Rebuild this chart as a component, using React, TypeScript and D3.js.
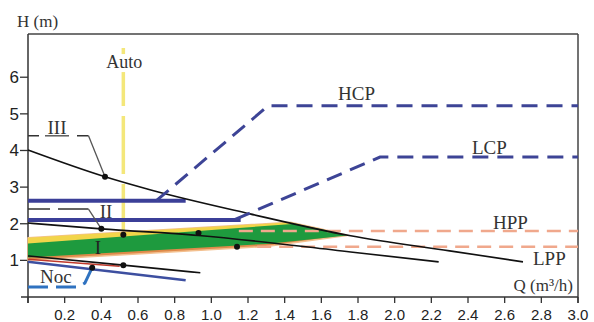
import React from 'react';
import * as d3 from 'd3';

// pump curves, Q (m3/h) vs H (m)
const curveIII = [[0, 4.01], [0.42, 3.28], [0.67, 2.92], [1.21, 2.27], [1.76, 1.67], [2.3, 1.26], [2.7, 0.96]];
const curveII = [[0, 2.02], [0.4, 1.86], [0.93, 1.68], [1.76, 1.23], [2.24, 0.96]];
const curveI = [[0, 1.12], [0.52, 0.87], [0.94, 0.66]];
const blueLow = [[0, 0.96], [0.86, 0.46]];
const redLow = [[0, 1.03], [0.5, 0.84]];
const nocLine = [[0, 0.27], [0.27, 0.27], [0.31, 0.38], [0.35, 0.8]];

// constant pressure
const hcpBase = [[0, 2.63], [0.86, 2.63]];
const lcpBase = [[0, 2.1], [1.16, 2.1]];
const hcpLine = [[0.7, 2.63], [1.31, 5.22], [3.0, 5.22]];
const lcpLine = [[1.13, 2.12], [1.92, 3.82], [3.0, 3.82]];

// proportional pressure
const hppLine = [[1.15, 1.8], [3.0, 1.8]];
const lppLine = [[1.25, 1.37], [3.0, 1.37]];
const autoLine = [[0.52, 6.8], [0.52, 1.7]];

// auto-adapt band
const bandOuter = [[0, 1.0], [0, 1.62], [1.43, 2.04], [1.6, 1.86], [1.74, 1.68], [1.3, 1.38]];
const bandYellow = [[0, 1.42], [0, 1.62], [1.43, 2.04], [1.5, 1.96]];
const bandGreen = [[0, 1.08], [0, 1.46], [1.46, 2.0], [1.6, 1.85], [1.74, 1.68], [1.3, 1.45]];

// leaders for the curve labels
const leaderIIIFlat = [[0, 4.4], [0.33, 4.4]];
const leaderIIISlope = [[0.33, 4.4], [0.42, 3.28]];
const leaderIIFlat = [[0, 2.4], [0.33, 2.4]];
const leaderIISlope = [[0.33, 2.4], [0.4, 1.86]];

const dots = [[0.42, 3.28], [0.4, 1.86], [0.52, 1.7], [0.93, 1.75], [1.14, 1.37], [0.52, 0.87], [0.35, 0.8]];

const qTicks = [0, 0.2, 0.4, 0.6, 0.8, 1.0, 1.2, 1.4, 1.6, 1.8, 2.0, 2.2, 2.4, 2.6, 2.8, 3.0];
const hTicks = [1, 2, 3, 4, 5, 6];

const serif = '"Liberation Serif", "DejaVu Serif", serif';
const sans = '"Liberation Sans", Arial, sans-serif';

export default function App() {
  const x = d3.scaleLinear().domain([0, 3]).range([28, 578]);
  const y = d3.scaleLinear().domain([0, 7.18]).range([297, 34]);

  const line = d3.line<number[]>().x(d => x(d[0])).y(d => y(d[1]));
  const smooth = d3.line<number[]>().x(d => x(d[0])).y(d => y(d[1])).curve(d3.curveMonotoneX);
  const poly = (pts: number[][]) => line(pts) + 'Z';

  return (
    <svg width={594} height={322} style={{ position: 'absolute', left: 0, top: 0, background: '#fff' }}>
      {/* frame and axes */}
      <line x1={x(0)} x2={x(3)} y1={y(7.18)} y2={y(7.18)} stroke="#444" strokeWidth={1.5} />
      <line x1={x(3)} x2={x(3)} y1={y(7.18)} y2={y(0) + 6} stroke="#444" strokeWidth={1.5} />
      <line x1={x(0)} x2={x(0)} y1={y(7.18)} y2={y(0) + 6} stroke="#333" strokeWidth={1.5} />
      <line x1={x(0) - 7} x2={x(3)} y1={y(0)} y2={y(0)} stroke="#333" strokeWidth={1.5} />
      {qTicks.map(t => (
        <line key={'qt' + t} x1={x(t)} x2={x(t)} y1={y(0)} y2={y(0) + 6} stroke="#333" strokeWidth={1.3} />
      ))}
      {qTicks.filter(t => t > 0).map(t => (
        <text key={'ql' + t} x={x(t)} y={320} textAnchor="middle" fontFamily={sans} fontSize={15} fill="#222">
          {t.toFixed(1)}
        </text>
      ))}
      {hTicks.map(t => (
        <g key={'h' + t}>
          <line x1={x(0) - 8} x2={x(0)} y1={y(t)} y2={y(t)} stroke="#333" strokeWidth={1.3} />
          <text x={x(0) - 9} y={y(t) + 6} textAnchor="end" fontFamily={sans} fontSize={17} fill="#222">{t}</text>
        </g>
      ))}
      <text x={17} y={27} fontFamily={serif} fontSize={17} fill="#333">H (m)</text>
      <text x={573} y={291} textAnchor="end" fontFamily={serif} fontSize={17} fill="#333">Q (m³/h)</text>

      {/* auto line */}
      <path d={line(autoLine)!} stroke="#f4e77a" strokeWidth={3.5} strokeDasharray="58,10" fill="none" />

      {/* constant-pressure base lines */}
      <path d={line(hcpBase)!} stroke="#3b3f98" strokeWidth={4} fill="none" />
      <path d={line(lcpBase)!} stroke="#3b3f98" strokeWidth={4} fill="none" />

      {/* band */}
      <path d={poly(bandOuter)} fill="#df8a4a" stroke="#f3c08f" strokeWidth={1.5} strokeLinejoin="round" />
      <path d={poly(bandYellow)} fill="#f2d54a" />
      <path d={poly(bandGreen)} fill="#1e9a3e" />

      {/* proportional pressure */}
      <path d={line(hppLine)!} stroke="#f0a88c" strokeWidth={2.5} strokeDasharray="14,8" fill="none" />
      <path d={line(lppLine)!} stroke="#f0a88c" strokeWidth={2.5} strokeDasharray="14,8" fill="none" />

      {/* low curves */}
      <path d={line(redLow)!} stroke="#c0392b" strokeWidth={1.5} fill="none" />
      <path d={line(blueLow)!} stroke="#3d4fa0" strokeWidth={2.5} fill="none" />
      <path d={line(nocLine)!} stroke="#2f72c0" strokeWidth={3} strokeDasharray="20,8" fill="none" />

      {/* speed curves */}
      <path d={smooth(curveIII)!} stroke="#111" strokeWidth={1.6} fill="none" />
      <path d={smooth(curveII)!} stroke="#111" strokeWidth={1.6} fill="none" />
      <path d={smooth(curveI)!} stroke="#111" strokeWidth={1.6} fill="none" />

      {/* leaders */}
      <path d={line(leaderIIIFlat)!} stroke="#333" strokeWidth={1.5} strokeDasharray="11,38,12" fill="none" />
      <path d={line(leaderIIISlope)!} stroke="#555" strokeWidth={1.3} fill="none" />
      <path d={line(leaderIIFlat)!} stroke="#333" strokeWidth={1.5} strokeDasharray="22,8,31" fill="none" />
      <path d={line(leaderIISlope)!} stroke="#555" strokeWidth={1.3} fill="none" />

      {/* constant pressure dashed */}
      <path d={line(hcpLine)!} stroke="#3d4496" strokeWidth={3} strokeDasharray="16,9" fill="none" />
      <path d={line(lcpLine)!} stroke="#3d4496" strokeWidth={3} strokeDasharray="16,9" fill="none" />

      {dots.map((d, i) => (
        <circle key={'d' + i} cx={x(d[0])} cy={y(d[1])} r={3} fill="#111" />
      ))}

      {/* labels */}
      <rect x={x(0.52) - 19} y={y(6.25) - 14} width={40} height={18} fill="#fff" />
      <text x={x(0.52) + 1} y={y(6.25)} textAnchor="middle" fontFamily={serif} fontSize={18} fill="#333">Auto</text>
      <text x={57} y={y(4.4) - 2} textAnchor="middle" fontFamily={serif} fontSize={19} fill="#333">III</text>
      <line x1={45} x2={69} y1={y(4.4)} y2={y(4.4)} stroke="#333" strokeWidth={1.2} />
      <text x={106} y={y(2.4) + 9} textAnchor="middle" fontFamily={serif} fontSize={19} fill="#333">II</text>
      <text x={98} y={y(1.18)} textAnchor="middle" fontFamily={serif} fontSize={19} fill="#222">I</text>
      <text x={40} y={y(0.39)} fontFamily={serif} fontSize={19} fill="#333">Noc</text>
      <text x={338} y={y(5.22) - 6} fontFamily={serif} fontSize={19} fill="#333">HCP</text>
      <text x={472} y={y(3.82) - 3} fontFamily={serif} fontSize={19} fill="#333">LCP</text>
      <text x={493} y={y(1.8) - 2} fontFamily={serif} fontSize={19} fill="#333">HPP</text>
      <text x={533} y={y(0.87)} fontFamily={serif} fontSize={19} fill="#333">LPP</text>
    </svg>
  );
}
